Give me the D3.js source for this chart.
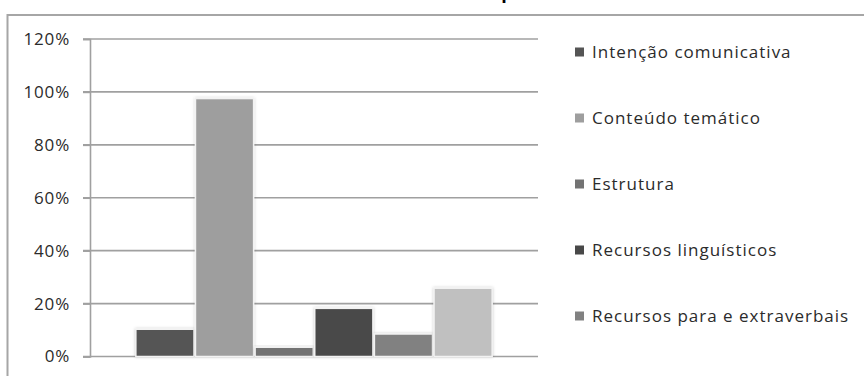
<!DOCTYPE html>
<html>
<head>
<meta charset="utf-8">
<script src="https://cdn.jsdelivr.net/npm/d3@7"></script>
<style>
  body { margin: 0; background: #fff; }
  text { font-family: "Open Sans", sans-serif; fill: #2b2b2b; }
</style>
</head>
<body>
<svg id="chart"></svg>
<script>
// legend entries (the sixth bar has no entry in the visible legend)
let series = ["Intenção comunicativa", "Conteúdo temático", "Estrutura",
              "Recursos linguísticos", "Recursos para e extraverbais"];
// bar heights in %, left to right
let values = [10.3, 97.5, 3.5, 18.2, 8.5, 25.8];
let colors = ["#555555", "#9e9e9e", "#737373", "#484848", "#818181", "#c0c0c0"];
let yTicks = [0, 20, 40, 60, 80, 100, 120];

let width = 864;
let height = 376;

let svg = d3.select("#chart")
    .attr("width", width)
    .attr("height", height);

let defs = svg.append("defs");
let shadow = defs.append("filter").attr("id", "shadow")
    .attr("x", "-20%").attr("y", "-20%").attr("width", "140%").attr("height", "140%");
shadow.append("feDropShadow")
    .attr("dx", 0).attr("dy", 0).attr("stdDeviation", 1.6)
    .attr("flood-color", "#000").attr("flood-opacity", 0.2);

// outer chart frame (continues past the window on the right and bottom)
svg.append("rect")
    .attr("x", 7.5).attr("y", 15)
    .attr("width", 900).attr("height", 400)
    .attr("fill", "none")
    .attr("stroke", "#a6a6a6")
    .attr("stroke-width", 2);

// the chart title sits above the window, only a descender peeks in
svg.append("text")
    .attr("x", 507).attr("y", -1)
    .attr("text-anchor", "middle")
    .style("font-weight", "bold")
    .style("font-size", "18px")
    .style("fill", "#000")
    .text("p");

let plot = { left: 90, right: 538, top: 39, bottom: 356.5 };

let y = d3.scaleLinear()
    .domain([0, 120])
    .range([plot.bottom, plot.top]);

let x0 = d3.scaleBand()
    .domain([""])
    .range([plot.left, plot.right])
    .paddingInner(0)
    .paddingOuter(0.126);

let x1 = d3.scaleBand()
    .domain(d3.range(values.length))
    .range([0, x0.bandwidth()]);

// gridlines
svg.append("g")
    .selectAll("line")
    .data(yTicks)
    .enter().append("line")
    .attr("x1", plot.left - 7)
    .attr("x2", plot.right)
    .attr("y1", d => y(d))
    .attr("y2", d => y(d))
    .attr("stroke", "#a0a0a0")
    .attr("stroke-width", 1.6);

// y axis
let yAxis = d3.axisLeft(y)
    .tickValues(yTicks)
    .tickSize(7)
    .tickPadding(13)
    .tickFormat(d => d + "%");

let ya = svg.append("g")
    .attr("transform", "translate(" + plot.left + ",0)")
    .call(yAxis);
ya.select(".domain").attr("stroke", "#a0a0a0").attr("stroke-width", 1.6);
ya.selectAll(".tick line").attr("stroke", "#a0a0a0").attr("stroke-width", 1.6);
ya.selectAll(".tick text")
    .style("font-size", "17px")
    .style("letter-spacing", "0.8px")
    .style("font-family", "'Open Sans', sans-serif")
    .attr("fill", "#2b2b2b");

// bars
svg.append("g")
    .attr("transform", "translate(" + x0("") + ",0)")
    .selectAll("rect")
    .data(values)
    .enter().append("rect")
    .attr("x", (d, i) => x1(i) + 0.75)
    .attr("width", x1.bandwidth() - 1.5)
    .attr("y", d => y(d))
    .attr("height", d => y(0) - y(d))
    .attr("fill", (d, i) => colors[i])
    .attr("stroke", "#f2f2f2")
    .attr("stroke-width", 1.5)
    .attr("filter", "url(#shadow)");

// legend
let legend = svg.append("g")
    .selectAll("g")
    .data(series)
    .enter().append("g")
    .attr("transform", (d, i) => "translate(575," + (52 + i * 66) + ")");

legend.append("rect")
    .attr("x", 0).attr("y", -4.5)
    .attr("width", 9).attr("height", 9)
    .attr("fill", (d, i) => colors[i]);

legend.append("text")
    .attr("x", 17)
    .attr("dy", "0.35em")
    .style("font-size", "17px")
    .style("letter-spacing", "1px")
    .text(d => d);
</script>
</body>
</html>
